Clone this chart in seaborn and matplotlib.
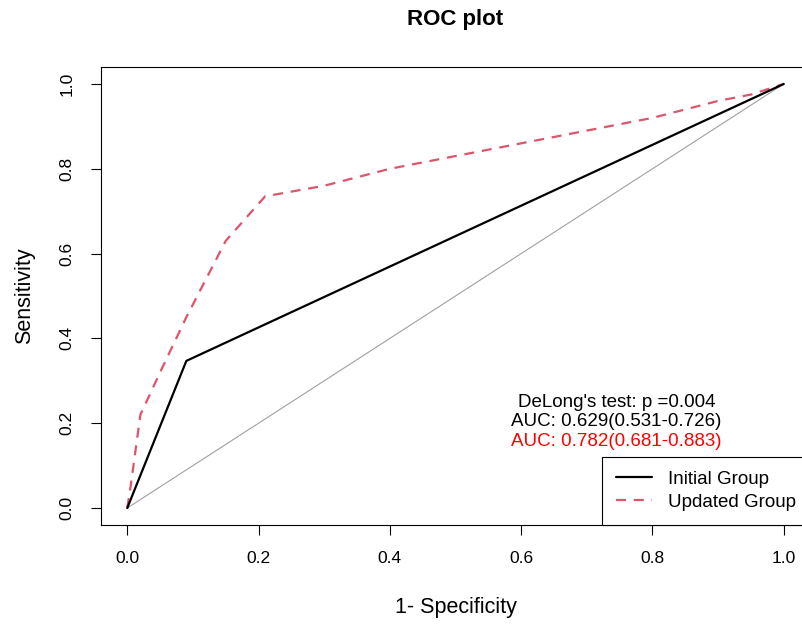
import numpy as np
import pandas as pd
import matplotlib
matplotlib.use("Agg")
import matplotlib.pyplot as plt
from matplotlib.lines import Line2D
import seaborn as sns

# ─── Data ──────────────────────────────────────────────────────────────────────

initial_fpr = [0.0, 0.09, 1.0]
initial_tpr = [0.0, 0.347, 1.0]

updated_fpr = [0.0, 0.005, 0.02, 0.05, 0.09, 0.15, 0.21, 0.30, 0.40,
               0.50, 0.60, 0.70, 0.80, 0.90, 0.95, 1.0]
updated_tpr = [0.0, 0.05, 0.22, 0.32, 0.45, 0.63, 0.735, 0.76, 0.80,
               0.83, 0.86, 0.89, 0.92, 0.96, 0.975, 1.0]

ticks = [0.0, 0.2, 0.4, 0.6, 0.8, 1.0]
tick_labels = ["0.0", "0.2", "0.4", "0.6", "0.8", "1.0"]

stats_lines = ["DeLong's test: p =0.004",
               "AUC: 0.629(0.531-0.726)",
               "AUC: 0.782(0.681-0.883)"]
group_names = ["Initial Group", "Updated Group"]

BLACK = "#000000"
RED_LINE = "#DF536B"
RED_TEXT = "#FF0000"

# ─── Figure ────────────────────────────────────────────────────────────────────

sns.set_style("white")
plt.rcParams["font.family"] = ["Liberation Sans", "DejaVu Sans"]
plt.rcParams.update({"text.color": BLACK, "axes.labelcolor": BLACK,
                     "xtick.color": BLACK, "ytick.color": BLACK})

fig = plt.figure(figsize=(8.02, 6.24), dpi=100)
# axes deliberately runs a little past the right edge of the canvas
ax = fig.add_axes([101 / 802, 99 / 624, 709 / 802, 458 / 624])

df_init = pd.DataFrame({"fpr": initial_fpr, "tpr": initial_tpr})
df_upd = pd.DataFrame({"fpr": updated_fpr, "tpr": updated_tpr})

ax.plot([0, 1], [0, 1], color="#a0a0a0", linewidth=0.8, zorder=1)
sns.lineplot(data=df_init, x="fpr", y="tpr", sort=False, estimator=None,
             color=BLACK, linewidth=1.6, ax=ax, zorder=3)
sns.lineplot(data=df_upd, x="fpr", y="tpr", sort=False, estimator=None,
             color=RED_LINE, linewidth=1.6, dashes=False, ax=ax, zorder=2)
ax.lines[-1].set_dashes((4.5, 3.5))

ax.set_xlim(-0.04, 1.04)
ax.set_ylim(-0.04, 1.04)
ax.set_xticks(ticks)
ax.set_xticklabels(tick_labels, fontsize=12.5)
ax.set_yticks(ticks)
ax.set_yticklabels(tick_labels, fontsize=12.5, rotation=90, va="center")
ax.tick_params(axis="both", direction="out", length=7, width=0.8,
               color=BLACK, labelcolor=BLACK, bottom=True, left=True)
ax.tick_params(axis="x", pad=12)
ax.tick_params(axis="y", pad=12)

for sp in ax.spines.values():
    sp.set_visible(True)
    sp.set_color(BLACK)
    sp.set_linewidth(0.8)

ax.set_xlabel("1- Specificity", fontsize=15.5, labelpad=22)
ax.set_ylabel("Sensitivity", fontsize=15.5, labelpad=18)
fig.text(455 / 802, 1 - 20 / 624, "ROC plot", fontsize=16,
         fontweight="bold", ha="center", va="center")

# DeLong / AUC annotation
ax.text(0.745, 0.25, stats_lines[0], fontsize=13.5, ha="center", va="center")
ax.text(0.745, 0.205, stats_lines[1], fontsize=13.5, ha="center", va="center")
ax.text(0.745, 0.158, stats_lines[2], fontsize=13.5, ha="center", va="center",
        color=RED_TEXT)

handles = [Line2D([0], [0], color=BLACK, linewidth=1.6),
           Line2D([0], [0], color=RED_LINE, linewidth=1.6, dashes=(4.5, 3.5))]
leg = ax.legend(handles, group_names, loc="lower right", fontsize=13.5,
                frameon=True, fancybox=False, framealpha=1, edgecolor=BLACK,
                borderaxespad=0, handlelength=1.9, borderpad=0.75,
                labelspacing=0.32, handletextpad=0.85)
leg.get_frame().set_linewidth(0.8)

fig.savefig("out.png", dpi=100)
plt.close(fig)
